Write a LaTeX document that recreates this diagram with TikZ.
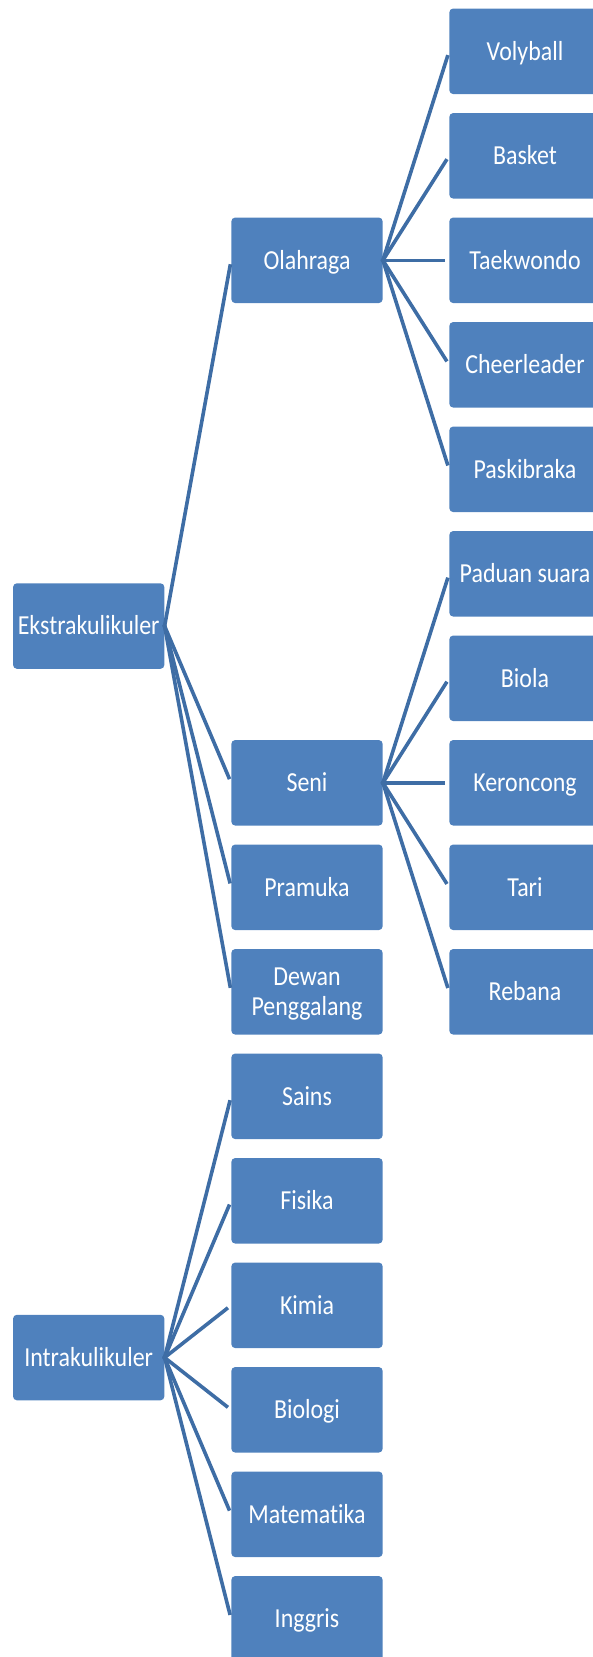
\documentclass[tikz,border=0pt]{standalone}
\usepackage{fontspec}
\setmainfont{Carlito}[FakeStretch=0.87, Ligatures=NoCommon]
\definecolor{boxblue}{HTML}{4F81BD}
\definecolor{linkblue}{HTML}{3E6DA5}
\begin{document}
\begin{tikzpicture}[x=1pt,y=-1pt,
  basebox/.style={rectangle, rounded corners=4pt, fill=boxblue, text=white,
    minimum width=151.4pt, minimum height=85.6pt, inner sep=0pt, align=center,
    font=\fontsize{27.5}{30.7}\selectfont},
  box/.style={basebox, text height=17.6pt, text depth=0pt},
  twobox/.style={basebox, text depth=0pt},
  link/.style={draw=linkblue, line width=3.6pt, shorten <=-1.5pt, shorten >=4pt}]
\useasboundingbox (0,0) rectangle (593,1657);
\clip (0,0) rectangle (593,1657);
% left column
\node[box] (ekstra) at (88.7,626.05) {Ekstrakulikuler};
\node[box] (intra) at (88.7,1357.55) {Intrakulikuler};
% middle column
\node[box] (olahraga) at (307,260.3) {Olahraga};
\node[box] (seni) at (307,782.8) {Seni};
\node[box] (pramuka) at (307,887.3) {Pramuka};
\node[twobox] (dewan) at (307,991.8) {Dewan\\Penggalang};
\node[box] (sains) at (307,1096.3) {Sains};
\node[box] (fisika) at (307,1200.8) {Fisika};
\node[box] (kimia) at (307,1305.3) {Kimia};
\node[box] (biologi) at (307,1409.8) {Biologi};
\node[box] (matematika) at (307,1514.3) {Matematika};
\node[box] (inggris) at (307,1618.8) {Inggris};
% right column
\node[box] (volyball) at (525,51.3) {Volyball};
\node[box] (basket) at (525,155.8) {Basket};
\node[box] (taekwondo) at (525,260.3) {Taekwondo};
\node[box] (cheer) at (525,364.8) {Cheerleader};
\node[box] (paskibraka) at (525,469.3) {Paskibraka};
\node[box] (paduan) at (525,573.8) {Paduan suara};
\node[box] (biola) at (525,678.3) {Biola};
\node[box] (keroncong) at (525,782.8) {Keroncong};
\node[box] (tari) at (525,887.3) {Tari};
\node[box] (rebana) at (525,991.8) {Rebana};
% connectors
\foreach \c in {olahraga,seni,pramuka,dewan}
  \draw[link] (ekstra.east) -- (\c.west);
\foreach \c in {volyball,basket,taekwondo,cheer,paskibraka}
  \draw[link] (olahraga.east) -- (\c.west);
\foreach \c in {paduan,biola,keroncong,tari,rebana}
  \draw[link] (seni.east) -- (\c.west);
\foreach \c in {sains,fisika,kimia,biologi,matematika,inggris}
  \draw[link] (intra.east) -- (\c.west);
\end{tikzpicture}
\end{document}
